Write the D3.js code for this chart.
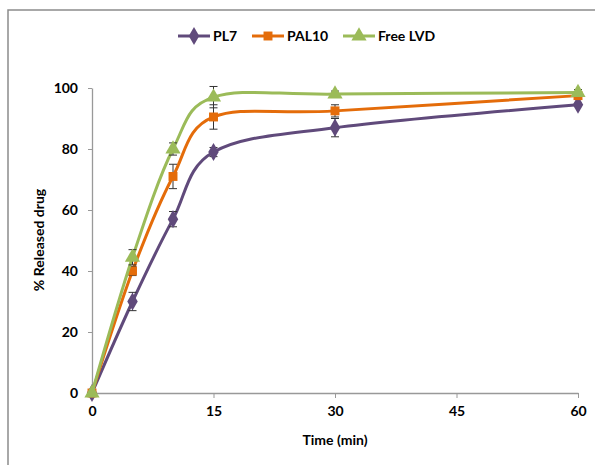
<!DOCTYPE html>
<html>
<head>
  <meta charset="utf-8">
  <script src="https://cdn.jsdelivr.net/npm/d3@7"></script>
  <style>
    body { margin: 0; background: #fff; }
    text { font-family: Lato, "Open Sans", sans-serif; font-weight: bold; }
  </style>
</head>
<body>
  <svg width="595" height="465" id="mainsvg"></svg>
  <script>
    // data
    const times = [0, 5, 10, 15, 30, 60];
    const seriesNames = ['PL7', 'PAL10', 'Free LVD'];
    const pl7 = [0, 30, 57, 79, 87, 94.5];
    const pl7Err = [0, 3, 2.5, 1.5, 3, 0.5];
    const pal10 = [0, 40, 71, 90.5, 92.5, 97.5];
    const pal10Err = [0, 1.5, 4, 4, 2, 1];
    const freeLvd = [0, 44.5, 80, 97, 98, 98.5];
    const freeLvdErr = [0, 2.5, 2, 3.5, 1, 1];
    const xTicks = [0, 15, 30, 45, 60];
    const yTicks = [0, 20, 40, 60, 80, 100];

    const colors = ['#604A7B', '#E46C0A', '#9BBB59'];
    const shapes = [d3.symbolDiamond, d3.symbolSquare, d3.symbolTriangle];
    const symSize = [95, 80, 100];

    const svg = d3.select('svg');
    const margin = {top: 88, left: 92};
    const innerWidth = 578 - 92;
    const innerHeight = 393 - 88;

    // outer chart frame (only top and left edges are inside the picture)
    svg.append('path').attr('d', 'M8,465V10H595')
      .attr('fill', 'none').attr('stroke', '#8c8c8c').attr('stroke-width', 1.5);

    const g = svg.append('g').attr('transform', `translate(${margin.left}, ${margin.top})`);

    const xScale = d3.scaleLinear().domain([0, 60]).range([0, innerWidth]);
    const yScale = d3.scaleLinear().domain([0, 100]).range([innerHeight, 0]);

    const xAxis = d3.axisBottom(xScale).tickValues(xTicks).tickSize(5).tickPadding(8).tickSizeOuter(0);
    const yAxis = d3.axisLeft(yScale).tickValues(yTicks).tickSize(4).tickPadding(10).tickSizeOuter(0);

    const xAxisGroup = g.append('g').attr('transform', `translate(0, ${innerHeight})`).call(xAxis);
    const yAxisGroup = g.append('g').call(yAxis);
    [xAxisGroup, yAxisGroup].forEach(ax => {
      ax.attr('font-family', 'Lato, sans-serif').attr('font-size', '14px');
      ax.select('.domain').attr('stroke', '#999').attr('stroke-width', 1.3);
      ax.selectAll('.tick line').attr('stroke', '#999');
      ax.selectAll('.tick text').attr('fill', '#000');
    });

    // axis titles
    svg.append('text').text('Time (min)').attr('x', 335).attr('y', 445)
      .attr('text-anchor', 'middle').attr('font-size', '14px');
    svg.append('text').text('% Released drug')
      .attr('transform', 'translate(44, 240) rotate(-90)')
      .attr('text-anchor', 'middle').attr('font-size', '14px');

    const allSeries = [
      {name: seriesNames[0], values: pl7, err: pl7Err},
      {name: seriesNames[1], values: pal10, err: pal10Err},
      {name: seriesNames[2], values: freeLvd, err: freeLvdErr}
    ];

    const line = d3.line()
      .x((d, i) => xScale(times[i]))
      .y(d => yScale(d))
      .curve(d3.curveCardinal.tension(0));

    allSeries.forEach((s, k) => {
      const sg = g.append('g');
      sg.append('path').datum(s.values).attr('d', line)
        .attr('fill', 'none').attr('stroke', colors[k]).attr('stroke-width', 3);
      // error bars
      const eb = sg.selectAll('.err').data(s.values.map((v, i) => ({t: times[i], v: v, e: s.err[i]})).filter(d => d.e > 0))
        .enter().append('g');
      eb.append('line')
        .attr('x1', d => xScale(d.t)).attr('x2', d => xScale(d.t))
        .attr('y1', d => yScale(d.v + d.e)).attr('y2', d => yScale(d.v - d.e))
        .attr('stroke', '#333').attr('stroke-width', 1);
      [1, -1].forEach(sign => {
        eb.append('line')
          .attr('x1', d => xScale(d.t) - 4).attr('x2', d => xScale(d.t) + 4)
          .attr('y1', d => yScale(d.v + sign * d.e)).attr('y2', d => yScale(d.v + sign * d.e))
          .attr('stroke', '#333').attr('stroke-width', 1);
      });
      sg.selectAll('.pt').data(s.values).enter().append('path')
        .attr('d', d3.symbol().type(shapes[k]).size(symSize[k]))
        .attr('transform', (d, i) => `translate(${xScale(times[i])}, ${yScale(d)})`)
        .attr('fill', colors[k]);
    });

    // legend
    const legendX = [178, 252, 343];
    seriesNames.forEach((name, k) => {
      const lg = svg.append('g').attr('transform', `translate(${legendX[k]}, 36)`);
      lg.append('line').attr('x1', 0).attr('x2', 32).attr('y1', 0).attr('y2', 0)
        .attr('stroke', colors[k]).attr('stroke-width', 3);
      lg.append('path').attr('d', d3.symbol().type(shapes[k]).size(symSize[k]))
        .attr('transform', 'translate(16, 0)').attr('fill', colors[k]);
      lg.append('text').text(name).attr('x', 35).attr('y', 5).attr('font-size', '14px');
    });
  </script>
</body>
</html>
